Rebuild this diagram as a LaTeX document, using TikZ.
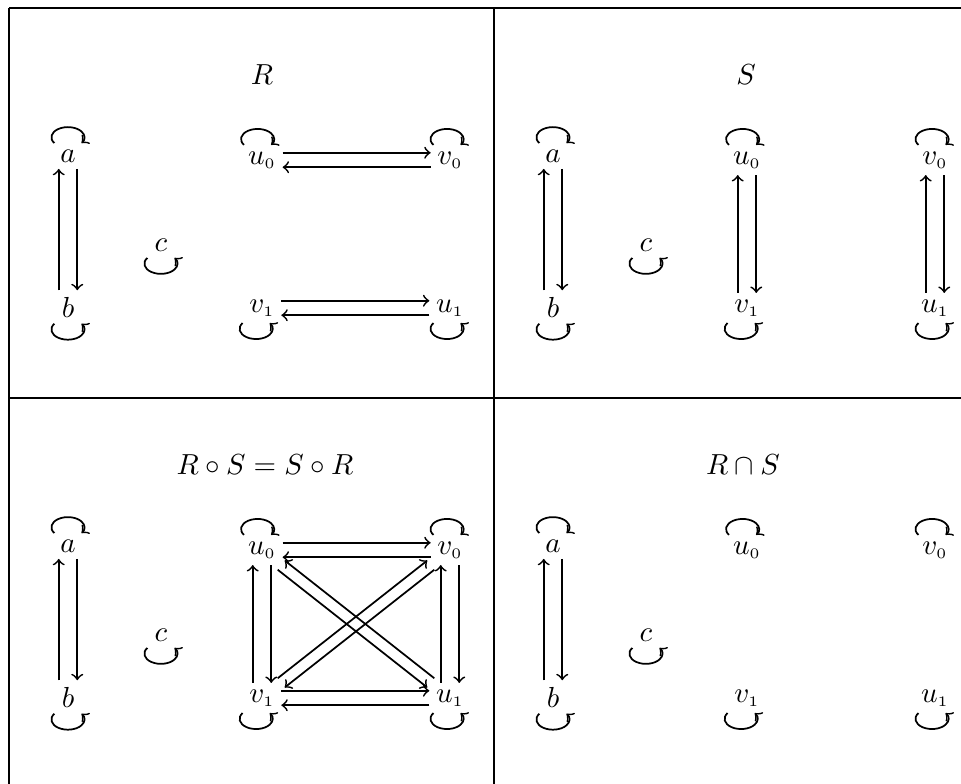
\documentclass[tikz,border=0pt]{standalone}
\begin{document}
\begin{tikzpicture}[x=0.345pt, y=0.345pt, line width=0.6pt,
    vtx/.style={inner sep=2pt},
    loopup/.style={start angle=215, end angle=-35, x radius=5.7pt, y radius=3.5pt},
    loopdown/.style={start angle=145, end angle=395, x radius=5.7pt, y radius=3.5pt},
    rule/.style={line width=0.7pt}]
    \clip (0,0) rectangle (961,784);
    \draw[rule, line width=0.9pt] (9,776) -- (980,776);
    \draw[rule] (9,776) -- (9,-10);
    \draw[rule] (494,776) -- (494,-10);
    \draw[rule] (9,386) -- (980,386);
    \node (tR) at (262,709) {$R$};
    \node (tS) at (746,709) {$S$};
    \node (tC) at (265,319) {$R\circ S=S\circ R$};
    \node (tI) at (743,319) {$R\cap S$};
    \foreach \p/\dx/\dy in {R/0/0, S/485/0, C/0/-390, I/485/-390} {
        \begin{scope}[shift={(\dx,\dy)}]
            \node[vtx] (\p a) at (68,628) {$a$};
            \node[vtx] (\p b) at (68,477) {$b$};
            \node[vtx] (\p c) at (161,539) {$c$};
            \node[vtx] (\p u0) at (262,624) {$u_{\scriptscriptstyle 0}$};
            \node[vtx] (\p v0) at (450,624) {$v_{\scriptscriptstyle 0}$};
            \node[vtx] (\p v1) at (262,476) {$v_{\scriptscriptstyle 1}$};
            \node[vtx] (\p u1) at (450,476) {$u_{\scriptscriptstyle 1}$};
        \end{scope}
        \foreach \n/\s in {a/0, u0/-1.5, v0/-1} {
            \draw[->] ([xshift=\s pt-4.7pt]\p\n.north) arc[loopup];
        }
        \foreach \n/\s in {b/0, c/0, v1/-2, u1/-1} {
            \draw[->] ([xshift=\s pt-4.7pt]\p\n.south) arc[loopdown];
        }
        \draw[->, transform canvas={xshift=3.2pt}] (\p a) -- (\p b);
        \draw[->, transform canvas={xshift=-3.2pt}] (\p b) -- (\p a);
    }
    \foreach \p in {R,C} {
        \draw[->, transform canvas={yshift=2.5pt}] (\p u0) -- (\p v0);
        \draw[->, transform canvas={yshift=-2.5pt}] (\p v0) -- (\p u0);
        \draw[->, transform canvas={yshift=2.5pt}] (\p v1) -- (\p u1);
        \draw[->, transform canvas={yshift=-2.5pt}] (\p u1) -- (\p v1);
    }
    \foreach \p in {S,C} {
        \draw[->, transform canvas={xshift=3.2pt}] (\p u0) -- (\p v1);
        \draw[->, transform canvas={xshift=-3.2pt}] (\p v1) -- (\p u0);
        \draw[->, transform canvas={xshift=3.2pt}] (\p v0) -- (\p u1);
        \draw[->, transform canvas={xshift=-3.2pt}] (\p u1) -- (\p v0);
    }
    \draw[->, transform canvas={shift={(-1.2pt,-1.6pt)}}] (Cu0) -- (Cu1);
    \draw[->, transform canvas={shift={(1.2pt,1.6pt)}}] (Cu1) -- (Cu0);
    \draw[->, transform canvas={shift={(-1.2pt,1.6pt)}}] (Cv1) -- (Cv0);
    \draw[->, transform canvas={shift={(1.2pt,-1.6pt)}}] (Cv0) -- (Cv1);
\end{tikzpicture}
\end{document}
